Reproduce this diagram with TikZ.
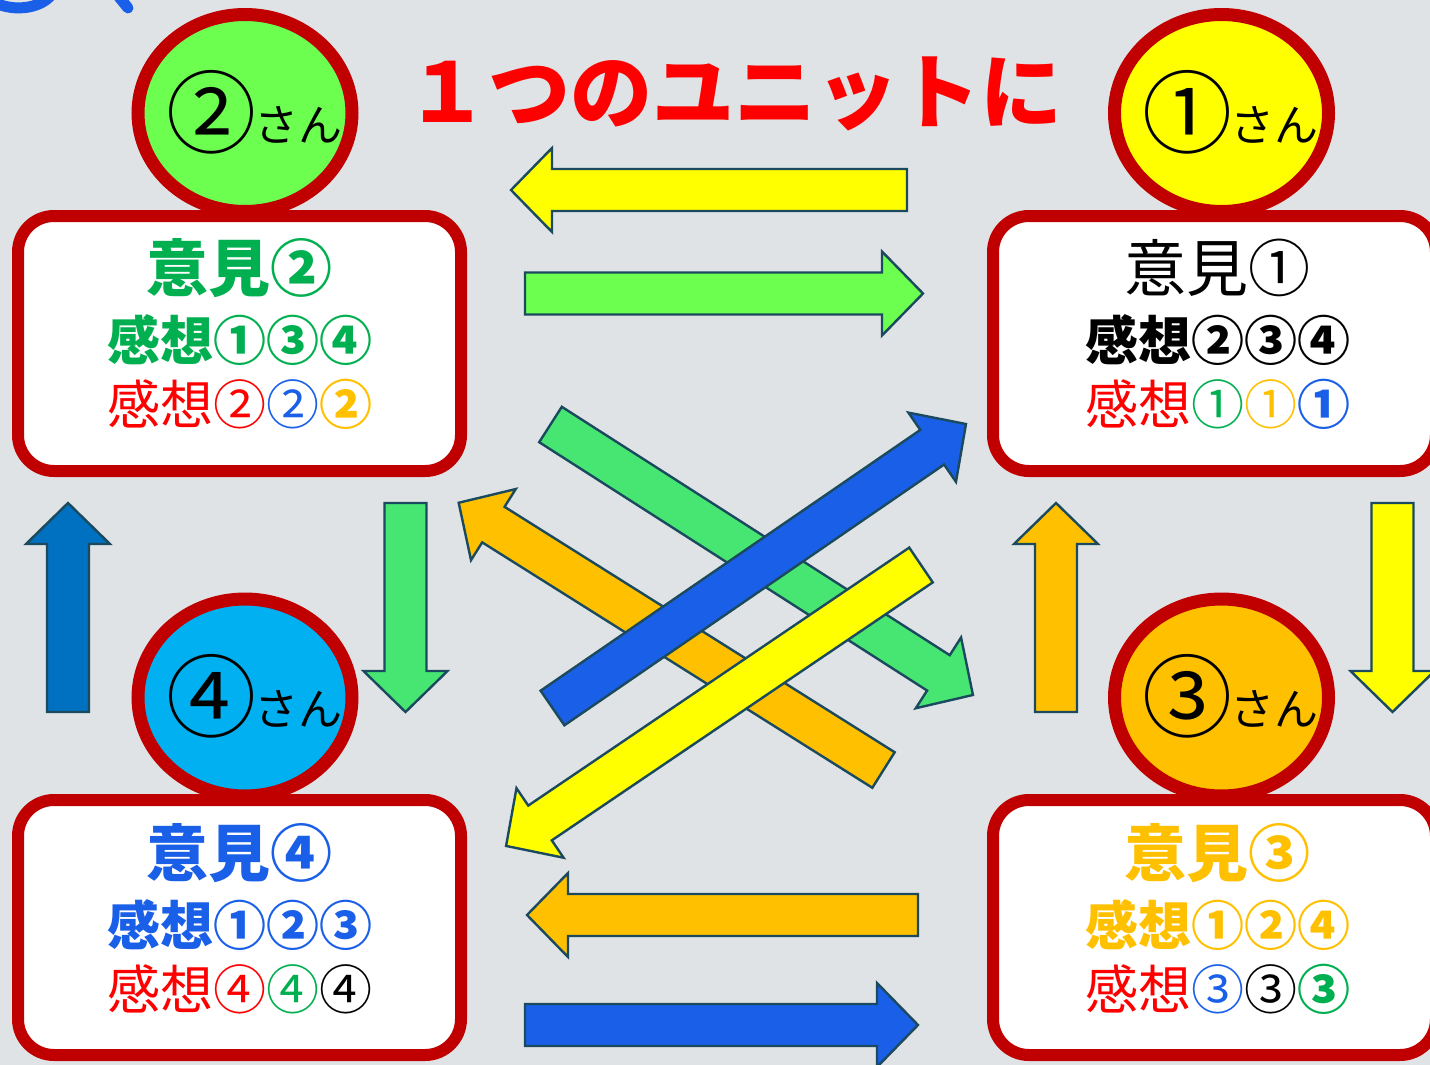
\documentclass[tikz,border=0pt]{standalone}
\usepackage{fontspec}
\setmainfont{Noto Sans CJK JP}
\usepackage{tikz}
\usetikzlibrary{calc,shapes.geometric}
\definecolor{bggray}{HTML}{DFE3E6}
\definecolor{darkred}{HTML}{C00000}
\definecolor{jred}{HTML}{FF0000}
\definecolor{jgreen}{HTML}{00B050}
\definecolor{jblue}{HTML}{1A5FE8}
\definecolor{jorange}{HTML}{FFC000}
\definecolor{jyellow}{HTML}{FFFF00}
\definecolor{limegreen}{HTML}{6CFF50}
\definecolor{midgreen}{HTML}{47E673}
\definecolor{skyblue}{HTML}{00B0F0}
\definecolor{deepblue}{HTML}{0070C0}
\definecolor{arrowedge}{HTML}{1B4A5E}
\def\sz#1{\fontsize{#1}{#1}\selectfont}
\def\san#1{{\sz{90}#1}\kern-2pt\raisebox{5pt}{\sz{44}さん}}
% block arrow: fill, tail x, tail y, tip x, tip y
\newcommand{\blockarrow}[5]{%
	\pgfmathsetmacro{\arrlen}{veclen(#4-#2,#5-#3)}%
	\pgfmathsetmacro{\arrang}{atan2(#5-#3,#4-#2)}%
	\begin{scope}[shift={(#2,#3)}, rotate={0-(\arrang)}]
		\draw[arrowline, fill=#1] (0,-21) -- (\arrlen-41,-21) -- (\arrlen-41,-42) -- (\arrlen,0) -- (\arrlen-41,42) -- (\arrlen-41,21) -- (0,21) -- cycle;
	\end{scope}}
\tikzset{
	person/.style={ellipse, draw=darkred, line width=13, minimum width=214, minimum height=197, inner sep=0},
	opinion/.style={rectangle, rounded corners=36, draw=darkred, fill=white, line width=12, minimum width=443, minimum height=255, inner sep=0},
	sanlabel/.style={inner sep=0, anchor=base west},
	line/.style={inner sep=0, font=\sz{53}},
	arrowline/.style={draw=arrowedge, line width=2.4, line join=miter},
}

\begin{document}
\begin{tikzpicture}[x=1pt, y=-1pt]
			%%%%% START %%%%%
			
			\useasboundingbox (0,0) rectangle (1430,1065);
			\fill[bggray] (0,0) rectangle (1430,1065);
			
			\draw[jblue, line width=11, line cap=round] (-8,1) .. controls (10,12) and (40,10) .. (52,-6);
			\draw[jblue, line width=11, line cap=round] (115,-8) -- (128,8);
			
			\node[inner sep=0, font=\sz{82}\bfseries, text=jred] (title) at (734,94) {１つのユニットに};
			
			\node[person, fill=limegreen] (p2) at (245,113) {};
			\node[person, fill=jyellow] (p1) at (1221.5,113) {};
			\node[person, fill=skyblue] (p4) at (245,697.5) {};
			\node[person, fill=jorange] (p3) at (1221.5,697.5) {};
			
			\node[sanlabel] (l2) at ([xshift=-79, yshift=-33]p2.center) {\san{②}};
			\node[sanlabel] (l1) at ([xshift=-79, yshift=-33]p1.center) {\san{①}};
			\node[sanlabel] (l4) at ([xshift=-79, yshift=-33]p4.center) {\san{④}};
			\node[sanlabel] (l3) at ([xshift=-79, yshift=-33]p3.center) {\san{③}};
			
			\node[opinion] (b2) at (239.5,343.5) {};
			\node[opinion] (b1) at (1214.5,343.5) {};
			\node[opinion] (b4) at (239.5,927.5) {};
			\node[opinion] (b3) at (1214.5,927.5) {};
			
			% box 2
			\node[line, font=\sz{62}\bfseries, text=jgreen] (o2) at ([yshift=-58]b2.north) {意見②};
			\node[line, font=\sz{53}\bfseries, text=jgreen] (k2) at ([yshift=-130]b2.north) {感想①③④};
			\node[line] (r2) at ([yshift=-194]b2.north) {\textcolor{jred}{感想②}\textcolor{jblue}{②}\textcolor{jorange}{\bfseries ②}};
			
			% box 1
			\node[line, font=\sz{62}] (o1) at ([xshift=3, yshift=-58]b1.north) {意見①};
			\node[line, font=\sz{53}\bfseries] (k1) at ([xshift=3, yshift=-130]b1.north) {感想②③④};
			\node[line] (r1) at ([xshift=3, yshift=-194]b1.north) {\textcolor{jred}{感想}\textcolor{jgreen}{①}\textcolor{jorange}{①}\textcolor{jblue}{\bfseries ①}};
			
			% box 4
			\node[line, font=\sz{62}\bfseries, text=jblue] (o4) at ([yshift=-59]b4.north) {意見④};
			\node[line, font=\sz{53}\bfseries, text=jblue] (k4) at ([yshift=-131]b4.north) {感想①②③};
			\node[line] (r4) at ([yshift=-195]b4.north) {\textcolor{jred}{感想④}\textcolor{jgreen}{④}④};
			
			% box 3
			\node[line, font=\sz{62}\bfseries, text=jorange] (o3) at ([xshift=3, yshift=-59]b3.north) {意見③};
			\node[line, font=\sz{53}\bfseries, text=jorange] (k3) at ([xshift=3, yshift=-131]b3.north) {感想①②④};
			\node[line] (r3) at ([xshift=3, yshift=-195]b3.north) {\textcolor{jred}{感想}\textcolor{jblue}{③}③\textcolor{jgreen}{\bfseries ③}};
			
			% straight arrows
			\blockarrow{jyellow}{907}{190}{511}{190}
			\blockarrow{limegreen}{525}{293.5}{923}{293.5}
			\blockarrow{jorange}{918}{915}{527}{915}
			\blockarrow{jblue}{525}{1025}{918}{1025}
			
			\blockarrow{deepblue}{68}{712}{68}{503}
			\blockarrow{midgreen}{405.5}{503}{405.5}{712}
			\blockarrow{jorange}{1056}{712}{1056}{503}
			\blockarrow{jyellow}{1392.5}{503}{1392.5}{712}
			
			% crossing arrows
			\blockarrow{midgreen}{550.5}{424.5}{973}{695}
			\blockarrow{jorange}{883.5}{770}{458.6}{502.7}
			\blockarrow{jblue}{552.5}{708}{966}{424}
			\blockarrow{jyellow}{921}{565}{506}{846}
			
			%%%%% END %%%%%
\end{tikzpicture}
\end{document}
